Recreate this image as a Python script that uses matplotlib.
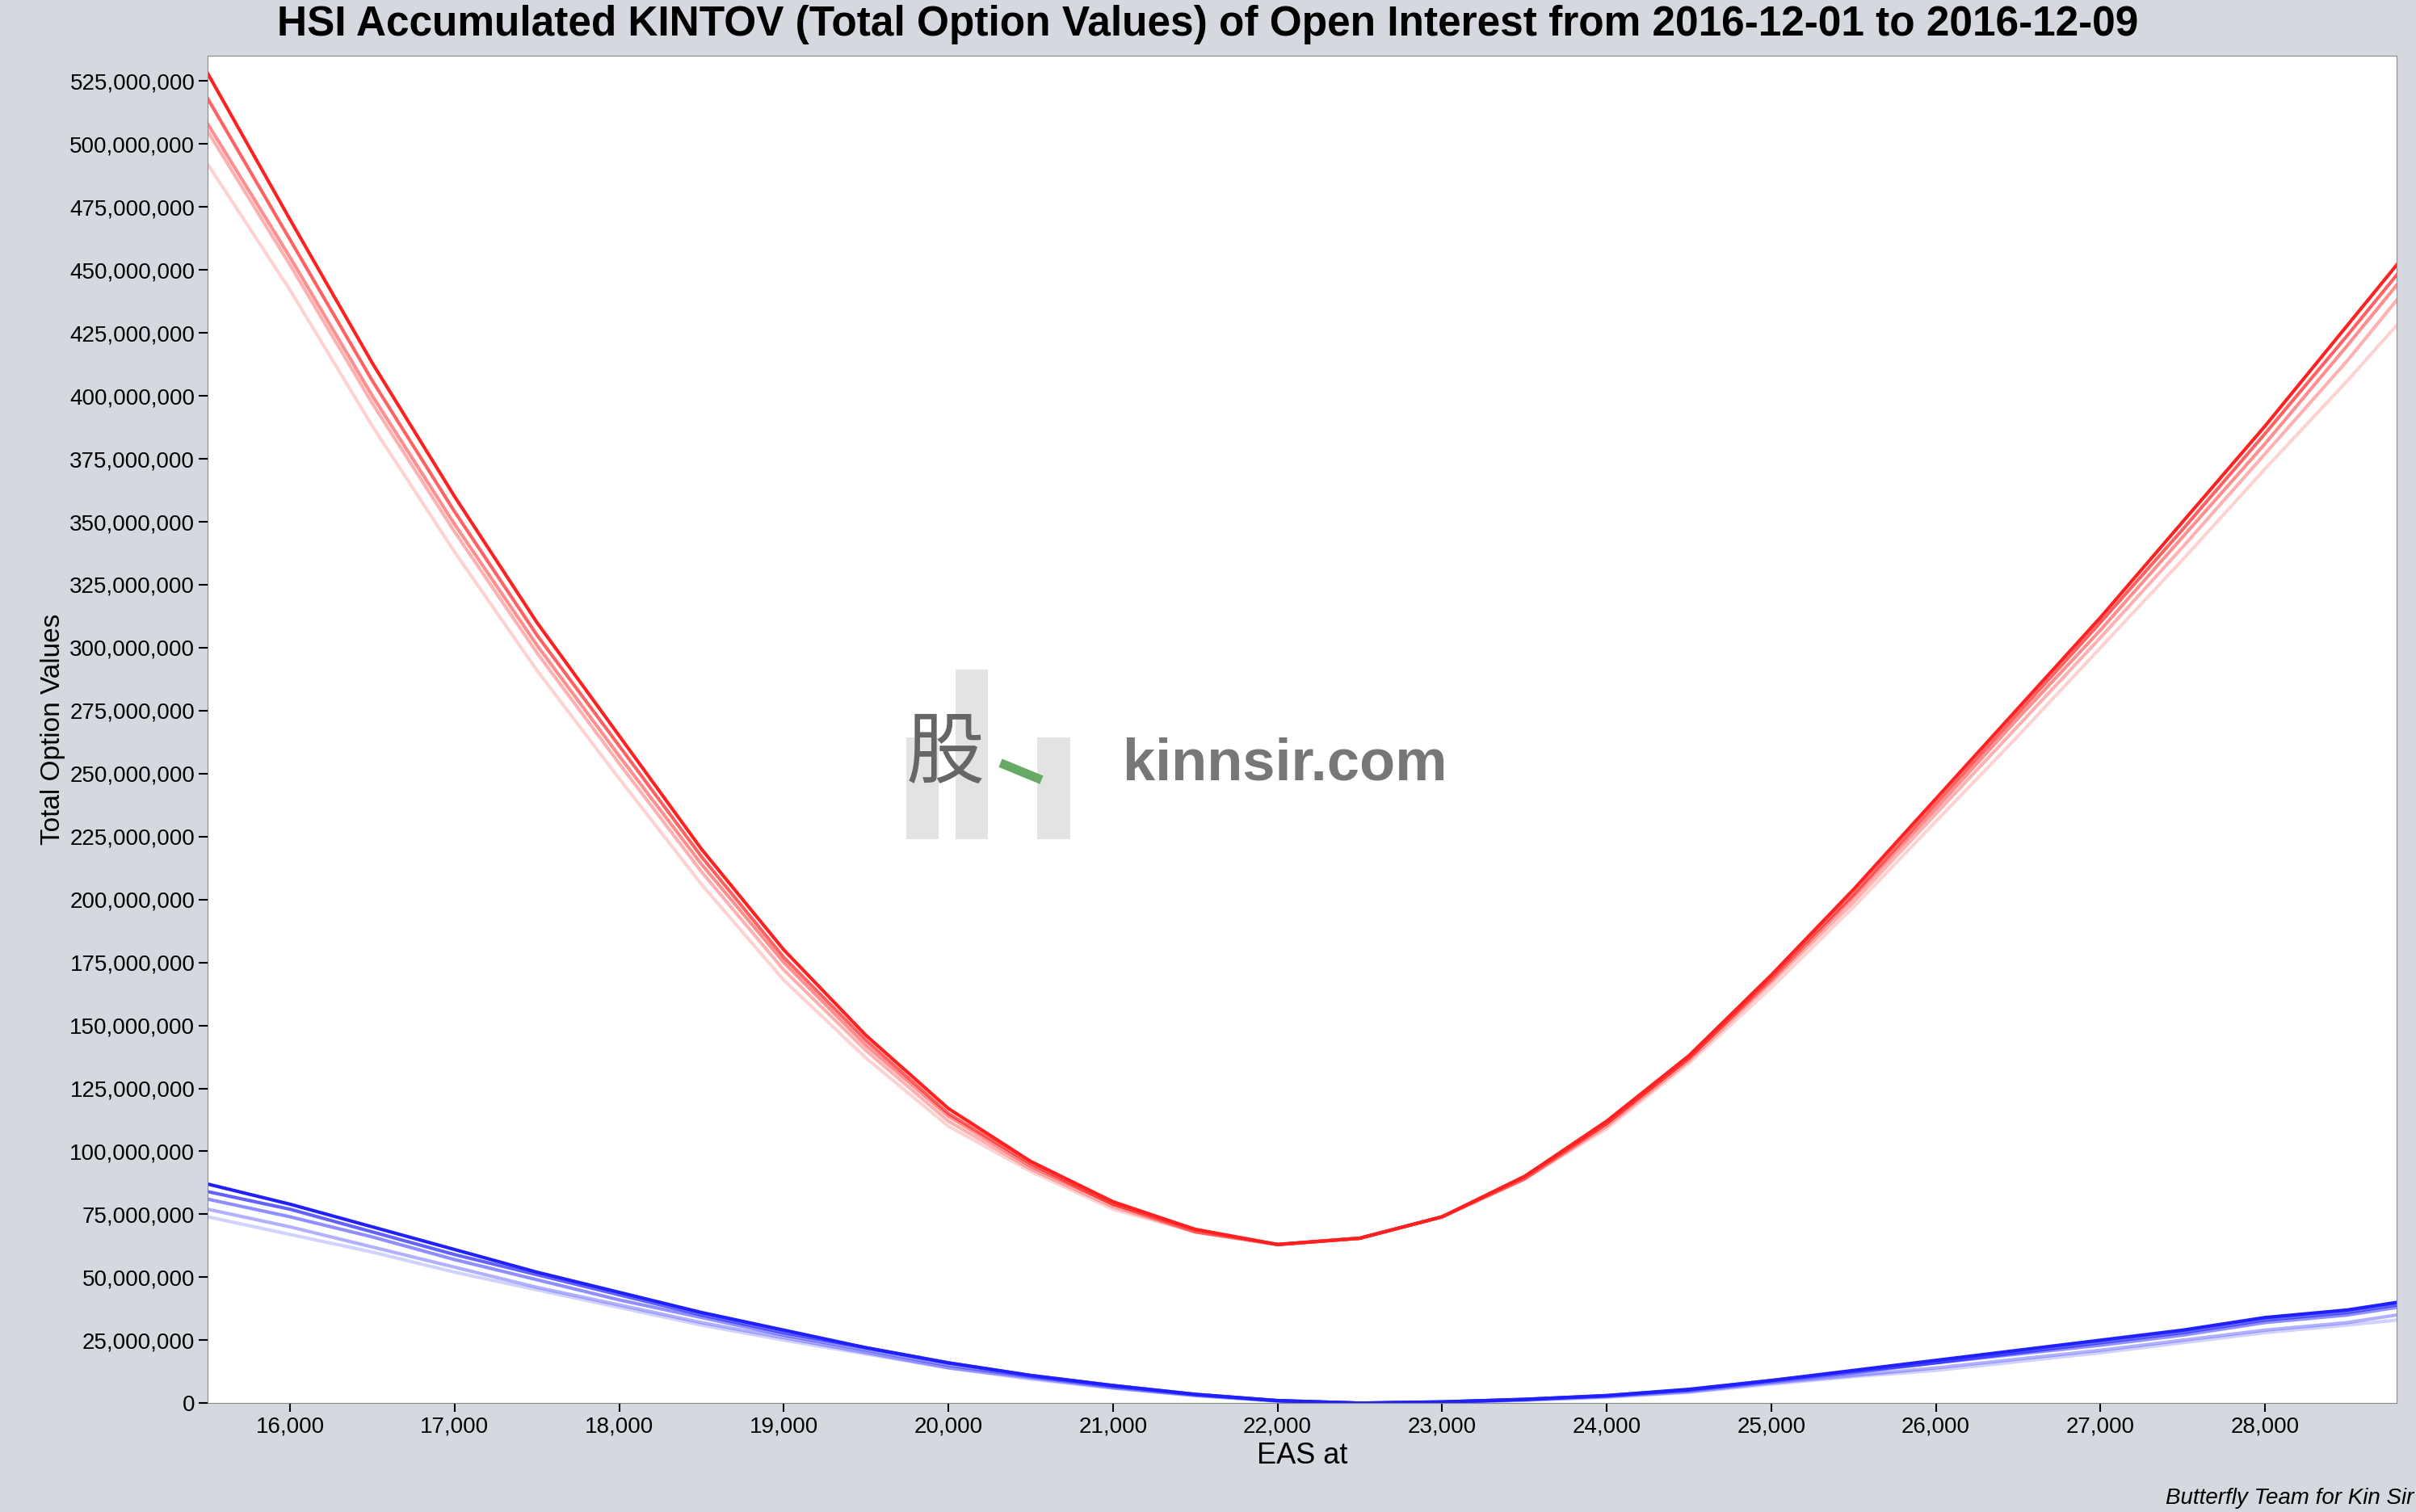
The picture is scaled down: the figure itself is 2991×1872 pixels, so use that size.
import numpy as np
import matplotlib.pyplot as plt
from matplotlib.ticker import FuncFormatter, MultipleLocator

plt.rcParams['font.family'] = ['Liberation Sans', 'DejaVu Sans']

# strike levels (EAS at)
eas = [15500, 16000, 16500, 17000, 17500, 18000, 18500, 19000, 19500, 20000,
       20500, 21000, 21500, 22000, 22500, 23000, 23500, 24000, 24500, 25000,
       25500, 26000, 26500, 27000, 27500, 28000, 28500, 28800]

# red family (millions), darkest first
red_1 = [528, 470, 413, 360, 310, 265, 220, 180, 146, 117, 96, 80, 69, 63, 65.5, 74,
         90, 112, 138, 170, 204, 240, 276, 312, 350, 388, 428, 452]
red_2 = [518, 462, 406, 354, 305, 261, 217, 177, 144, 115, 95, 79, 69, 63, 65.5, 74,
         90, 111, 137, 169, 202, 238, 274, 310, 347, 385, 424, 448]
red_3 = [508, 455, 400, 349, 301, 257, 214, 175, 142, 114, 94, 79, 68, 63, 65.5, 74,
         89, 111, 137, 168, 201, 236, 272, 307, 344, 381, 420, 444]
red_4 = [505, 452, 397, 346, 298, 254, 211, 172, 140, 112, 93, 78, 68, 63, 65.5, 74,
         89, 110, 136, 167, 199, 234, 269, 304, 340, 377, 414, 438]
red_5 = [492, 442, 388, 338, 291, 248, 206, 168, 137, 110, 92, 77, 68, 63, 65.5, 74,
         89, 109, 135, 165, 197, 231, 265, 300, 335, 371, 406, 428]

# blue family (millions), darkest first
blue_1 = [87, 79, 70, 61, 52, 44, 36, 29, 22, 16, 11, 7, 3.5, 1, 0, 0.5,
          1.5, 3, 5.5, 9, 13, 17, 21, 25, 29, 34, 37, 40]
blue_2 = [84, 77, 68, 59, 51, 43, 35, 28, 22, 16, 11, 7, 3.5, 1, 0, 0.5,
          1.5, 3, 5.3, 9, 12.5, 16, 20, 24, 28, 33, 36, 39]
blue_3 = [81, 74, 66, 57, 49, 41, 34, 27, 21, 15, 10.5, 6.5, 3.3, 1, 0, 0.4,
          1.4, 2.8, 5, 8.5, 12, 16, 19.5, 23, 27, 32, 35, 38]
blue_4 = [77, 70, 62, 54, 46, 39, 32, 26, 20, 14, 10, 6, 3, 0.8, 0, 0.3,
          1.2, 2.5, 4.5, 8, 11, 14, 17.5, 21, 25, 29, 32, 35]
blue_5 = [74, 67, 60, 52, 45, 38, 31, 25, 19.5, 14, 9.5, 6, 3, 0.8, 0, 0.3,
          1.1, 2.3, 4.3, 7.5, 10.5, 13, 16.5, 20, 24, 28, 31, 33]

reds = [red_5, red_4, red_3, red_2, red_1]
blues = [blue_5, blue_4, blue_3, blue_2, blue_1]
alphas = [0.2, 0.35, 0.5, 0.7, 1.0]

bg = '#d5d8df'
fig = plt.figure(figsize=(29.91, 18.72), dpi=100, facecolor=bg)
ax = fig.add_axes([0.086, 0.072, 0.906, 0.891])

for r, a in zip(reds, alphas):
    ax.plot(eas, np.array(r) * 1e6, color='#ff2020', alpha=a, lw=3)
for b, a in zip(blues, alphas):
    ax.plot(eas, np.array(b) * 1e6, color='#2020ff', alpha=a, lw=3)

ax.set_xlim(15500, 28800)
ax.set_ylim(0, 535e6)
ax.xaxis.set_major_locator(MultipleLocator(1000))
ax.yaxis.set_major_locator(MultipleLocator(25e6))
ax.xaxis.set_major_formatter(FuncFormatter(lambda v, p: f'{int(v):,}'))
ax.yaxis.set_major_formatter(FuncFormatter(lambda v, p: f'{int(v):,}'))
ax.tick_params(labelsize=20, length=8, width=1.5)
for s in ax.spines.values():
    s.set_color('#888888')

ax.set_xlabel('EAS at', fontsize=26)
ax.set_ylabel('Total Option Values', fontsize=24)
fig.suptitle('HSI Accumulated KINTOV (Total Option Values) of Open Interest from 2016-12-01 to 2016-12-09',
             fontsize=37, fontweight='bold', y=0.997)

# watermark
ax.text(0.418, 0.474, 'kinnsir.com', transform=ax.transAxes, fontsize=52,
        fontweight='bold', color='#777777', va='center')
lax = fig.add_axes([0.375, 0.445, 0.068, 0.112])
lax.set_xlim(0, 5)
lax.set_ylim(0, 5)
lax.axis('off')
lax.bar([0.5, 2.0, 4.5], [3, 5, 3], width=1, color='#dddddd', alpha=0.8)
lax.text(1.2, 2.5, '股', fontsize=70, color='#666666', ha='center', va='center',
         family=['Noto Sans CJK SC', 'DejaVu Sans'])
lax.plot([3, 4], [2.2, 1.8], color='#66aa66', lw=8)

fig.text(0.999, 0.002, 'Butterfly Team for Kin Sir', fontsize=20, style='italic',
         ha='right', va='bottom')

fig.savefig('out.png', facecolor=bg)
